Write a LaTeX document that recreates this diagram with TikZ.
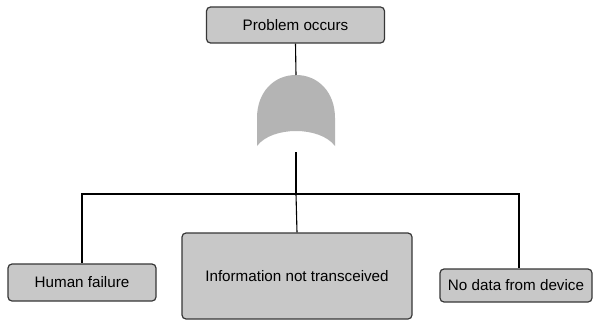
\documentclass[tikz,border=0pt]{standalone}
\usepackage{fontspec}
\setmainfont{Liberation Sans}
\definecolor{boxfill}{RGB}{200,200,200}
\definecolor{boxline}{RGB}{55,55,55}
\definecolor{gatefill}{RGB}{180,180,180}
\begin{document}
\begin{tikzpicture}[x=1pt,y=-1pt,
  event/.style={draw=boxline, line width=1.2pt, fill=boxfill, rounded corners=4pt,
    inner sep=0pt, align=center, font=\fontsize{15.2}{18}\selectfont},
  wire/.style={draw=black, line width=1.1pt}]
  \useasboundingbox (0,0) rectangle (594,321);
  \fill[white] (0,0) rectangle (594,321);

  % events
  \node[event, minimum width=178, minimum height=36] (top) at (295.5,25) {Problem occurs};
  \node[event, minimum width=148, minimum height=37] (hf) at (82,282.5) {Human failure};
  \node[event, minimum width=230, minimum height=86] (info) at (297,276) {Information not transceived};
  \node[event, minimum width=152, minimum height=33] (nd) at (516,285.5) {No data from device};

  % OR gate
  \coordinate (gin) at (296,75);
  \coordinate (gout) at (296,152);
  \coordinate (junc) at (296,194);
  \fill[gatefill] (257,146) -- (257,118) .. controls (257,92) and (274,75) .. (gin)
    .. controls (318,75) and (335,92) .. (335,118) -- (335,146)
    .. controls (320,126) and (272,126) .. (257,146) -- cycle;

  % connectors
  \draw[wire] (top.south) -- (gin);
  \draw[wire] (gout) -- (junc);
  \draw[wire] (junc) -- (info.north);
  \draw[wire] (junc) -| (hf.north);
  \draw[wire] (junc) -| ([xshift=3pt]nd.north);
\end{tikzpicture}
\end{document}
